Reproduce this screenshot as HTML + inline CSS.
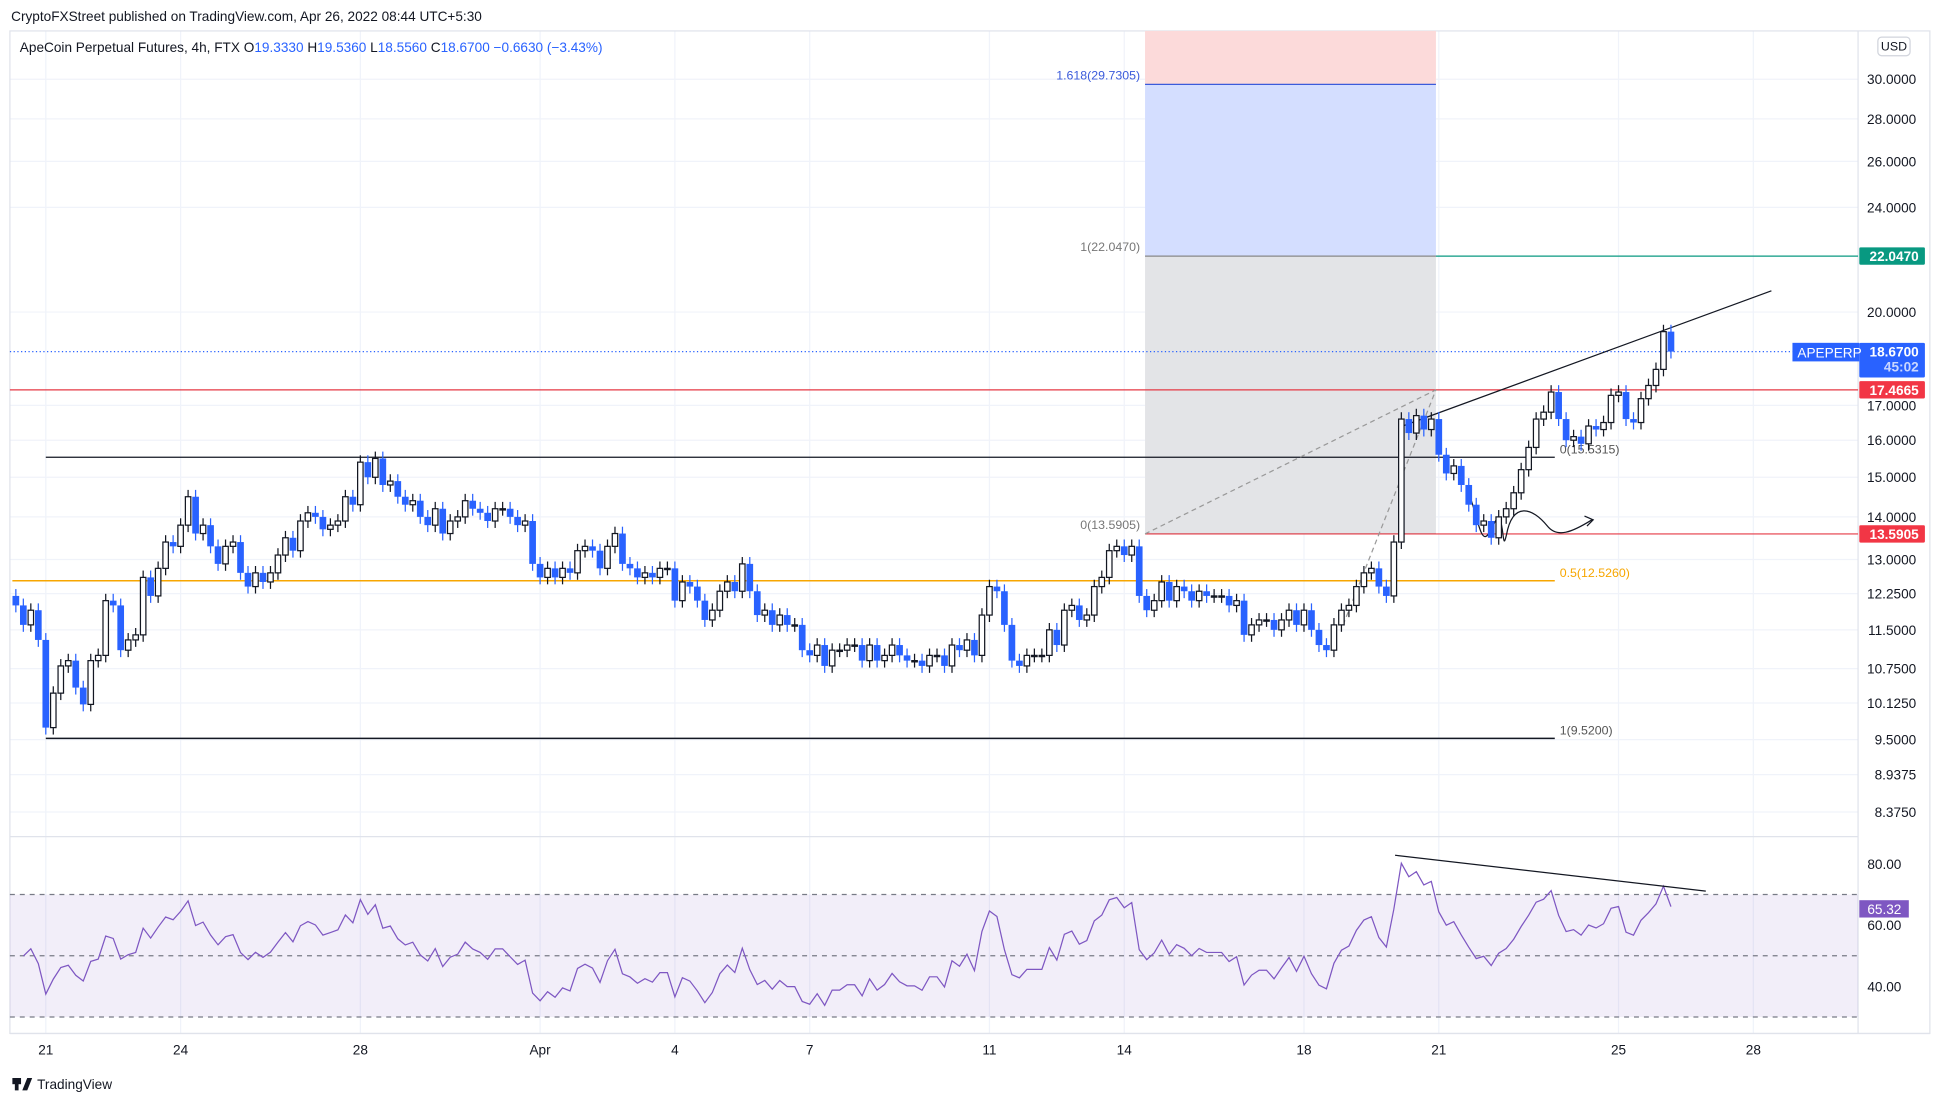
<!DOCTYPE html>
<html><head><meta charset="utf-8">
<style>
html,body{margin:0;padding:0;background:#fff;}
svg{display:block;font-family:"Liberation Sans",sans-serif;}
</style></head>
<body>
<svg id="chart" width="1941" height="1104" viewBox="0 0 1568 892" preserveAspectRatio="none" xmlns="http://www.w3.org/2000/svg">
<rect x="0" y="0" width="1568" height="892" fill="#fff"/>
<g id="grid"></g>
<g id="boxes"></g>
<g id="lines"></g>
<g id="candles"></g>
<g id="rsi"></g>
<g id="axes"></g>
<text x="9" y="17" font-size="11" fill="#131722">CryptoFXStreet published on TradingView.com, Apr 26, 2022 08:44 UTC+5:30</text>
<text x="16" y="42" font-size="11" fill="#131722">ApeCoin Perpetual Futures, 4h, FTX <tspan fill="#131722">O</tspan><tspan fill="#2962ff">19.3330</tspan> <tspan fill="#131722">H</tspan><tspan fill="#2962ff">19.5360</tspan> <tspan fill="#131722">L</tspan><tspan fill="#2962ff">18.5560</tspan> <tspan fill="#131722">C</tspan><tspan fill="#2962ff">18.6700 −0.6630 (−3.43%)</tspan></text>
<g>
<rect x="10" y="871" width="7" height="5" fill="#131722"/><rect x="12" y="871" width="3" height="10" fill="#131722"/><path d="M18,881 L22,871 L26,871 L22,881 Z" fill="#131722"/>
<text x="30" y="880" font-size="11" fill="#131722">TradingView</text>
</g>
</svg>
<script>
const closes = [12.0,11.6,11.9,11.3,
9.7,10.3,10.8,10.9,10.4,10.1,
10.9,11.0,12.1,12.0,11.1,11.3,
11.4,12.6,12.2,12.8,13.4,13.3,
13.8,14.5,13.6,13.8,13.3,12.9,
13.3,13.4,12.7,12.4,12.7,12.5,
12.7,13.1,13.5,13.2,13.9,14.1,
14.0,13.7,13.8,13.9,14.5,14.3,
15.4,15.0,15.5,14.8,14.9,14.5,
14.3,14.4,14.0,13.8,14.2,13.6,
13.9,14.0,14.4,14.2,14.1,13.9,
14.2,14.2,14.0,13.8,13.9,12.9,
12.6,12.8,12.6,12.8,12.7,13.2,
13.3,13.2,12.8,13.3,13.6,12.9,
12.8,12.6,12.7,12.6,12.8,12.8,
12.1,12.5,12.4,12.1,11.7,11.9,
12.3,12.5,12.3,12.9,12.3,11.8,
11.9,11.6,11.8,11.6,11.6,11.1,
11.0,11.2,10.8,11.1,11.1,11.2,
11.2,10.9,11.2,10.9,11.0,11.2,
11.0,10.9,10.9,10.8,11.0,11.0,
10.8,11.2,11.1,11.3,11.0,11.8,
12.4,12.3,11.6,10.9,10.8,11.0,
11.0,11.0,11.5,11.2,11.9,12.0,
11.7,11.8,12.4,12.6,13.2,13.3,
13.1,13.3,12.2,11.9,12.1,12.5,
12.1,12.4,12.3,12.1,12.3,12.2,
12.2,12.2,12.0,12.1,11.4,11.6,
11.7,11.7,11.5,11.7,11.9,11.6,
11.9,11.5,11.2,11.1,11.6,11.9,
12.0,12.4,12.7,12.8,12.4,12.2,
13.4,16.6,16.2,16.7,16.3,16.6,
15.6,15.1,15.3,14.8,14.3,13.8,
13.9,13.5,14.0,14.2,14.6,15.2,
15.8,16.6,16.8,17.4,16.6,16.0,
16.1,15.9,16.4,16.3,16.5,17.3,
17.4,16.6,16.5,17.2,17.6,18.1,
19.33,18.67];
const firstOpen = 12.2;
const priceTicks = [30,28,26,24,20,17,16,15,14,13,12.25,11.5,10.75,10.125,9.5,8.9375,8.375];
const rsiTicks = [80,60,40];
const dateLabels = ["21","24","28","Apr","4","7","11","14","18","21","25","28"];
const dateCandleIdx = [4,22,46,70,88,106,130,148,172,190,214,232];

const NS="http://www.w3.org/2000/svg";
function mk(tag,attrs,parent){const e=document.createElementNS(NS,tag);for(const k in attrs)e.setAttribute(k,attrs[k]);parent.appendChild(e);return e;}
const yP = p => 64 + (Math.log(30)-Math.log(p))*464;
const xI = i => 12.8 + i*6.05;
const yR = v => 698 + (80-v)*2.475;
const G=id=>document.getElementById(id);

const grid=G('grid');
priceTicks.forEach(t=>{const l=mk('line',{x1:8,x2:1501,y1:yP(t),y2:yP(t),stroke:'#f0f3fa','stroke-width':1},grid);

});
dateCandleIdx.forEach(i=>{const l=mk('line',{x1:xI(i),x2:xI(i),y1:25,y2:835,stroke:'#f0f3fa','stroke-width':1},grid);

});
mk('rect',{x:8,y:25,width:1551,height:810,fill:'none',stroke:'#e0e3eb','stroke-width':1},grid);
mk('line',{x1:8,x2:1501,y1:676,y2:676,stroke:'#e0e3eb'},grid);
mk('line',{x1:1501,x2:1501,y1:25,y2:835,stroke:'#e0e3eb'},grid);

const bx=G('boxes');
const x0=925,x1=1160;
let r=mk('rect',{x:x0,y:25,width:x1-x0,height:yP(29.7305)-25,fill:'#fcdada'},bx);


r=mk('rect',{x:x0,y:yP(29.7305),width:x1-x0,height:yP(22.047)-yP(29.7305),fill:'#d4deff'},bx);


r=mk('rect',{x:x0,y:yP(22.047),width:x1-x0,height:yP(13.5905)-yP(22.047),fill:'#e3e4e7'},bx);


mk('line',{x1:x0,x2:x1,y1:yP(29.7305),y2:yP(29.7305),stroke:'#3b5bdb','stroke-width':1},bx);
mk('line',{x1:x0,x2:x1,y1:yP(22.047),y2:yP(22.047),stroke:'#888','stroke-width':1},bx);
mk('line',{x1:x0,x2:x1,y1:yP(13.5905),y2:yP(13.5905),stroke:'#888','stroke-width':1},bx);
function lbl(par,x,y,t,c,anchor,name){const e=mk('text',{x:x,y:y,'font-size':10,fill:c,'text-anchor':anchor||'start'},par);e.textContent=t;

return e;}
lbl(bx,921,yP(29.7305)-4,'1.618(29.7305)','#3b5bdb','end','fib-1618-label');
lbl(bx,921,yP(22.047)-4,'1(22.0470)','#777','end','fib-1-label');
lbl(bx,921,yP(13.5905)-4,'0(13.5905)','#777','end','fib-0-label');

const ln=G('lines');
function L(a,name){const e=mk('line',a,ln);return e;}
L({x1:8,x2:1501,y1:yP(18.67),y2:yP(18.67),stroke:'#2962ff','stroke-dasharray':'1,2','stroke-width':1},'last-price-line');
L({x1:8,x2:1501,y1:yP(17.4665),y2:yP(17.4665),stroke:'#e53945','stroke-width':1},'resistance-17-4665');
L({x1:925,x2:1501,y1:yP(13.5905),y2:yP(13.5905),stroke:'#e53945','stroke-width':1},'support-13-5905');
L({x1:1160,x2:1501,y1:yP(22.047),y2:yP(22.047),stroke:'#089981','stroke-width':1},'target-22-047');
L({x1:37,x2:1256,y1:yP(15.5315),y2:yP(15.5315),stroke:'#131722','stroke-width':1},'fib-0-line');
L({x1:37,x2:1256,y1:yP(9.52),y2:yP(9.52),stroke:'#131722','stroke-width':1.2},'fib-1-line');
L({x1:10,x2:1256,y1:yP(12.526),y2:yP(12.526),stroke:'#f7a600','stroke-width':1.2},'fib-05-line');
L({x1:925,x2:1160,y1:yP(13.5905),y2:yP(17.4665),stroke:'#999','stroke-dasharray':'4,3'},'dashed-projection-1');
L({x1:1085,x2:1160,y1:yP(11.6),y2:yP(17.4665),stroke:'#999','stroke-dasharray':'4,3'},'dashed-projection-2');
L({x1:1131,x2:1431,y1:345,y2:235,stroke:'#131722','stroke-width':1},'rising-trendline');
lbl(ln,1260,yP(15.5315)-3,'0(15.5315)','#555','start','fib-0-right-label');
lbl(ln,1260,yP(9.52)-3,'1(9.5200)','#555','start','fib-1-right-label');
lbl(ln,1260,yP(12.526)-3,'0.5(12.5260)','#f7a600','start','fib-05-right-label');
let pth=mk('path',{d:'M1187,400 C1193,415 1196,440 1202,432 C1207,425 1209,415 1212,420 C1215,430 1214,445 1217,432 C1222,405 1238,410 1250,425 C1258,435 1270,430 1286,420',fill:'none',stroke:'#131722','stroke-width':1},ln);


pth=mk('path',{d:'M1280,417 L1287,420 L1282,425',fill:'none',stroke:'#131722','stroke-width':1},ln);



const cg=G('candles');
closes.forEach((c,i)=>{
  const o = i===0?firstOpen:closes[i-1];
  const up = c>=o;
  const hi=Math.max(o,c)*1.012, lo=Math.min(o,c)*0.988;
  const x=xI(i), col= up?'#131722':'#2962ff';
  const g=mk('g',{},cg);
  
  
  mk('line',{x1:x,x2:x,y1:yP(hi),y2:yP(lo),stroke:col,'stroke-width':1},g);
  const yt=yP(Math.max(o,c)), yb=yP(Math.min(o,c));
  if(up) mk('rect',{x:x-2.2,y:yt,width:4.4,height:Math.max(1,yb-yt),fill:'#fff',stroke:col,'stroke-width':1},g);
  else mk('rect',{x:x-2.7,y:yt,width:5.4,height:Math.max(1,yb-yt),fill:col},g);
});

const rg=G('rsi');
mk('rect',{x:8,y:yR(70),width:1493,height:yR(30)-yR(70),fill:'#7e57c2','fill-opacity':0.1},rg);
[70,50,30].forEach(v=>{const e=mk('line',{x1:8,x2:1501,y1:yR(v),y2:yR(v),stroke:'#787b86','stroke-dasharray':'4,4','stroke-width':1},rg);

});
let ag=0.25,al=0.22,pts=[];const N=14;
for(let i=1;i<closes.length;i++){const d=closes[i]-closes[i-1];const g=Math.max(d,0),l=Math.max(-d,0);
 ag=(ag*(N-1)+g)/N;al=(al*(N-1)+l)/N;
 const rs=al===0?100:100-100/(1+ag/al);pts.push(xI(i)+','+yR(rs));}
const rl=mk('polyline',{points:pts.join(' '),fill:'none',stroke:'#7e57c2','stroke-width':1},rg);


const rt=mk('line',{x1:1127,x2:1378,y1:691,y2:720,stroke:'#131722','stroke-width':1},rg);



const ax=G('axes');
priceTicks.forEach(t=>{const e=mk('text',{x:1548,y:yP(t)+4,'font-size':11,fill:'#131722','text-anchor':'end'},ax);e.textContent=t.toFixed(4);

});
rsiTicks.forEach(t=>{const e=mk('text',{x:1536,y:yR(t)+4,'font-size':11,fill:'#131722','text-anchor':'end'},ax);e.textContent=t.toFixed(2);

});
dateLabels.forEach((d,k)=>{const e=mk('text',{x:xI(dateCandleIdx[k]),y:852,'font-size':11,fill:'#131722','text-anchor':'middle'},ax);e.textContent=d;

});
mk('line',{x1:8,x2:1559,y1:835,y2:835,stroke:'#e0e3eb'},ax);
function badge(y,h,bg,lines,name,x){const g=mk('g',{},ax);
 mk('rect',{x:x||1502,y:y,width:(x?1555-x:53),height:h,fill:bg,rx:1},g);
 lines.forEach((t,k)=>{const e=mk('text',{x:1550,y:y+11+k*12,'font-size':11,fill:k?'#c9d6ff':'#fff','text-anchor':'end','font-weight':'bold'},g);e.textContent=t;});}
badge(yP(22.047)-7,14,'#089981',['22.0470'],'badge-22-047');
badge(277,28,'#2962ff',['18.6700','45:02'],'badge-last-price');
let sy=mk('rect',{x:1448,y:277,width:54,height:15,fill:'#2962ff'},ax);


let st=mk('text',{x:1452,y:289,'font-size':11,fill:'#fff'},ax);st.textContent='APEPERP';
badge(yP(17.4665)-7,14,'#f23645',['17.4665'],'badge-17-4665');
badge(yP(13.5905)-7,14,'#f23645',['13.5905'],'badge-13-5905');
const rb=mk('rect',{x:1502,y:yR(65.32)-7,width:40,height:14,fill:'#7e57c2'},ax);


const rbt=mk('text',{x:1536,y:yR(65.32)+4,'font-size':11,fill:'#fff','text-anchor':'end'},ax);rbt.textContent='65.32';
const usd=mk('rect',{x:1517,y:30,width:26,height:15,fill:'#fff',stroke:'#d1d4dc',rx:3},ax);


const ut=mk('text',{x:1530,y:41,'font-size':10,fill:'#131722','text-anchor':'middle'},ax);ut.textContent='USD';
</script>
</body></html>
